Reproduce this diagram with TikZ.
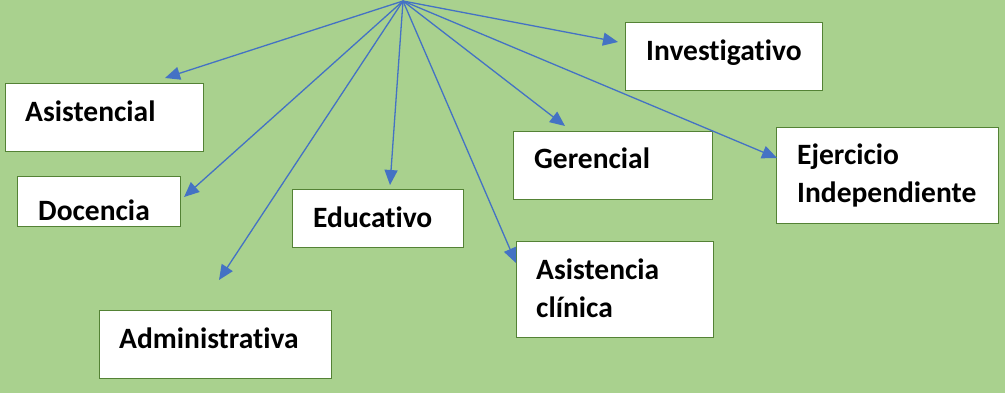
\documentclass[tikz,border=0pt]{standalone}
\usepackage{fontspec}
\setmainfont{Carlito}[Ligatures=NoCommon]
\usetikzlibrary{arrows.meta}
\usetikzlibrary{calc,positioning}
\definecolor{fondo}{HTML}{A9D18E}
\definecolor{borde}{HTML}{548235}
\definecolor{flecha}{HTML}{4472C4}
\tikzset{
  caja/.style={draw=borde, fill=white, line width=1.1pt, anchor=north west, inner sep=0pt},
  rol/.style={anchor=base west, inner sep=0pt, align=left, font=\bfseries\fontsize{29.5}{38}\selectfont},
  flec/.style={->, draw=flecha, line width=1.3pt}
}

\begin{document}
\begin{tikzpicture}[x=1pt, y=-1pt, >={Triangle[length=15pt,width=13pt]}]
        \fill[fondo] (0,0) rectangle (1005,393);
        \coordinate (centro) at (403,1);

        % cajas
        \node[caja, minimum width=198, minimum height=68] (asis) at (5,83) {};
        \node[caja, minimum width=163, minimum height=50] (doc) at (17,176) {};
        \node[caja, minimum width=232, minimum height=68] (adm) at (99,310) {};
        \node[caja, minimum width=171, minimum height=58] (edu) at (292,189) {};
        \node[caja, minimum width=199, minimum height=68] (ger) at (513,131) {};
        \node[caja, minimum width=197, minimum height=96] (clin) at (516,241) {};
        \node[caja, minimum width=197, minimum height=68] (inv) at (625,22) {};
        \node[caja, minimum width=222, minimum height=96] (ejer) at (776,127) {};

        % textos (la base de dos lineas es la ultima)
        \node[rol] (asisT) at (25,122) {Asistencial};
        \node[rol] (docT) at (38,221) {Docencia};
        \node[rol] (admT) at (119,348) {Administrativa};
        \node[rol] (eduT) at (313,227) {Educativo};
        \node[rol] (gerT) at (534,169) {Gerencial};
        \node[rol] (clinT) at (536,317) {Asistencia\\clínica};
        \node[rol] (invT) at (646,61) {Investigativo};
        \node[rol] (ejerT) at (797,203) {Ejercicio\\Independiente};

        % puntas de flecha
        \coordinate (pAsis) at ($(asis.north west)+(160,-5)$);
        \coordinate (pDoc) at ($(doc.north east)+(3,21)$);
        \coordinate (pAdm) at ($(adm.north west)+(120,-30)$);
        \coordinate (pEdu) at ($(edu.north west)+(98,-4)$);
        \coordinate (pGer) at ($(ger.north west)+(52,-5)$);
        \coordinate (pClin) at ($(clin.north west)+(0,22)$);
        \coordinate (pInv) at ($(inv.north west)+(-7,20)$);
        \coordinate (pEjer) at ($(ejer.north west)+(1,31)$);

        \foreach \p in {pAsis,pDoc,pAdm,pEdu,pGer,pClin,pInv,pEjer}
            \draw[flec] (centro) -- (\p);
\end{tikzpicture}
\end{document}
